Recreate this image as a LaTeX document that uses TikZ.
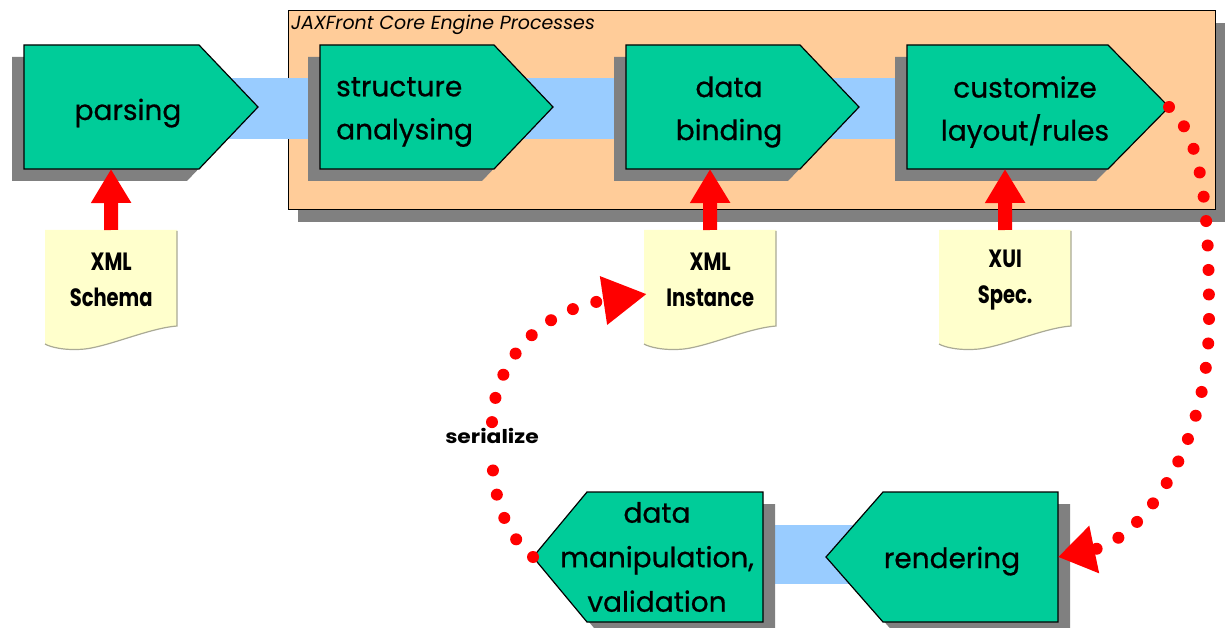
\documentclass[tikz,border=0pt]{standalone}
\usepackage{fontspec}
\setmainfont{Poppins}
\newfontfamily\jxprocfont[FakeBold=0.6]{Poppins}
\newfontfamily\jxnotefont[FakeStretch=0.78]{Poppins}
\newfontfamily\jxserfont[FakeStretch=1.15]{Poppins}
\usetikzlibrary{arrows.meta}
\definecolor{procgreen}{RGB}{0,204,153}
\definecolor{engorange}{RGB}{255,204,153}
\definecolor{bandblue}{RGB}{153,204,255}
\definecolor{shadowgray}{RGB}{128,128,128}
\definecolor{noteyellow}{RGB}{255,255,204}
\definecolor{notegray}{RGB}{170,170,150}
\newcommand\jxprocR[3]{%
  \fill[shade,shift={(-12,12)}] (#1,45) -- (#2,45) -- (#3,107) -- (#2,169) -- (#1,169) -- cycle;
  \draw[proc] (#1,45) -- (#2,45) -- (#3,107) -- (#2,169) -- (#1,169) -- cycle;}
\newcommand\jxprocL[3]{%
  \fill[shade,shift={(12,12)}] (#1,557) -- (#2,492) -- (#3,492) -- (#3,622) -- (#2,622) -- cycle;
  \draw[proc] (#1,557) -- (#2,492) -- (#3,492) -- (#3,622) -- (#2,622) -- cycle;}
\newcommand\jxnote[1]{%
  \begin{scope}[shift={(#1,0)}]
  \fill[noteyellow] (0,230) -- (132,230) -- (132,326) .. controls (105,328) and (65,346) .. (40,349) .. controls (20,351) and (5,347) .. (0,344) -- cycle;
  \draw[notegray,line width=1.2pt] (132,231) -- (132,326) .. controls (105,328) and (65,346) .. (40,349) .. controls (20,351) and (5,347) .. (0,344);
  \end{scope}}
\begin{document}
\begin{tikzpicture}[x=1pt,y=-1pt,
  proc/.style={fill=procgreen,draw=black,line width=1.2pt,line join=miter},
  shade/.style={fill=shadowgray},
  band/.style={fill=bandblue},
  proctext/.style={font=\jxprocfont\fontsize{28}{43}\selectfont,inner sep=0pt},
  notetext/.style={font=\jxnotefont\bfseries\fontsize{25}{36}\selectfont,align=center,inner sep=0pt},
  feed/.style={draw=red,line width=14pt,-{Triangle[length=34pt,width=38pt]}},
  reddots/.style={draw=red,line width=12pt,line cap=round,dash pattern=on 0pt off 24.5pt},
  dothead/.style={-{Triangle[length=#1,width=46pt]}},
]
\useasboundingbox (0,0) rectangle (1226,628);
% engine container
\fill[shade] (298,23) rectangle (1225,222);
\draw[fill=engorange,draw=black,line width=1pt] (288,11) rectangle (1215,210);
\node[anchor=base west,font=\itshape\fontsize{19}{22}\selectfont,inner sep=0pt] (title) at (291,30) {JAXFront Core Engine Processes};
% flow bands
\fill[band] (200,78) rectangle (1000,139);
\fill[band] (700,525) rectangle (900,584);
% process steps
\jxprocR{24}{199}{258}
\jxprocR{320}{494}{553}
\jxprocR{626}{800}{859}
\jxprocR{907}{1108}{1169}
\jxprocL{533}{587}{763}
\jxprocL{826}{883}{1058}
\node[proctext,anchor=base] (parsing) at (128,120) {parsing};
\node[proctext,align=left,anchor=west] (structure) at (336,112) {structure\\analysing};
\node[proctext,align=center] (binding) at (729,112) {data\\binding};
\node[proctext,align=center] (customize) at (1025,112) {customize\\layout/rules};
\node[proctext,align=center,font=\jxprocfont\fontsize{28}{44.5}\selectfont] (manip) at (657,557) {data\\manipulation,\\validation};
\node[proctext,anchor=base] (rendering) at (952,568) {rendering};
\coordinate (parsing-b) at (111,169);
\coordinate (binding-b) at (710,169);
\coordinate (customize-b) at (1005,169);
\coordinate (customize-tip) at (1169,107);
\coordinate (rendering-e) at (1058,557);
\coordinate (manip-tip) at (533,557);
% documents
\jxnote{45}
\jxnote{644}
\jxnote{939}
\node[notetext,anchor=north west,minimum width=132pt,minimum height=96pt] (schema) at (45,232) {XML\\Schema};
\node[notetext,anchor=north west,minimum width=132pt,minimum height=96pt] (instance) at (644,232) {XML\\Instance};
\node[notetext,anchor=north west,minimum width=132pt,minimum height=96pt] (xui) at (939,232) {XUI\\Spec.};
\coordinate (instance-in) at (647,294);
% input arrows
\draw[feed] (schema.north) ++(0,-2) -- (parsing-b);
\draw[feed] (instance.north) ++(0,-2) -- (binding-b);
\draw[feed] (xui.north) ++(0,-2) -- (customize-b);
% dotted loop
\draw[reddots,dothead=37pt] (customize-tip) .. controls (1205,140) and (1209,220) .. (1209,320) .. controls (1209,450) and (1140,540) .. (rendering-e);
\node[font=\jxserfont\bfseries\fontsize{19}{22}\selectfont,inner sep=6pt] (serialize) at (492,436) {serialize};
\draw[reddots] (manip-tip) .. controls (505,535) and (492,495) .. (serialize.south);
\draw[reddots,dothead=44pt] (serialize.north) .. controls (495,360) and (540,310) .. (instance-in);
\end{tikzpicture}
\end{document}
